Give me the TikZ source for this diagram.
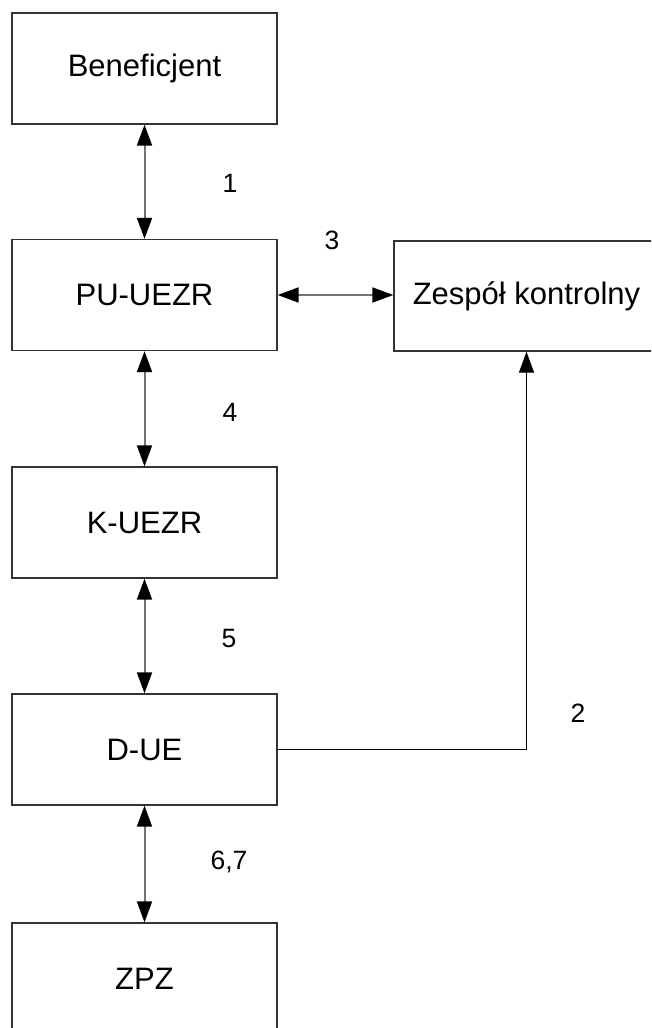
\documentclass[tikz,border=0pt]{standalone}
\usepackage{fontspec}
\setmainfont{Liberation Sans}
\usetikzlibrary{arrows.meta}
\begin{document}
\begin{tikzpicture}[x=1pt,y=-1pt,
  box/.style={draw=black!80,line width=1.4pt,minimum width=265pt,minimum height=111pt,inner sep=0pt,font=\fontsize{31}{36}\selectfont},
  lbl/.style={font=\fontsize{26.5}{32}\selectfont,inner sep=0pt},
  dbl/.style={draw=black!55,line width=2pt,{Triangle[length=21pt,width=15pt,black]}-{Triangle[length=21pt,width=15pt,black]}},
  sgl/.style={draw=black,line width=1.4pt,-{Triangle[length=21pt,width=15pt,black]}}]
\useasboundingbox (0,0) rectangle (651,1028);
\clip (0,0) rectangle (651,1028);
\node[box] (ben) at (144.5,68.5) {Beneficjent};
\node[box] (pu) at (144.5,295) {PU-UEZR};
\node[box,minimum height=110pt] (zk) at (526.5,296) {Zespół kontrolny};
\node[box] (k) at (144.5,522.5) {K-UEZR};
\node[box] (d) at (144.5,749.5) {D-UE};
\node[box] (zpz) at (144.5,978.5) {ZPZ};
\draw[dbl] (ben.south) -- (pu.north);
\draw[dbl] (pu.east) -- (pu.east -| zk.west);
\draw[dbl] (pu.south) -- (k.north);
\draw[dbl] (k.south) -- (d.north);
\draw[dbl] (d.south) -- (zpz.north);
\draw[sgl] (d.east) -| (zk.south);
\node[lbl] (l1) at (230,183) {1};
\node[lbl] (l3) at (332,240) {3};
\node[lbl] (l4) at (230,412) {4};
\node[lbl] (l5) at (229,639) {5};
\node[lbl] (l67) at (229,862) {6,7};
\node[lbl] (l2) at (578,713) {2};
\end{tikzpicture}
\end{document}
